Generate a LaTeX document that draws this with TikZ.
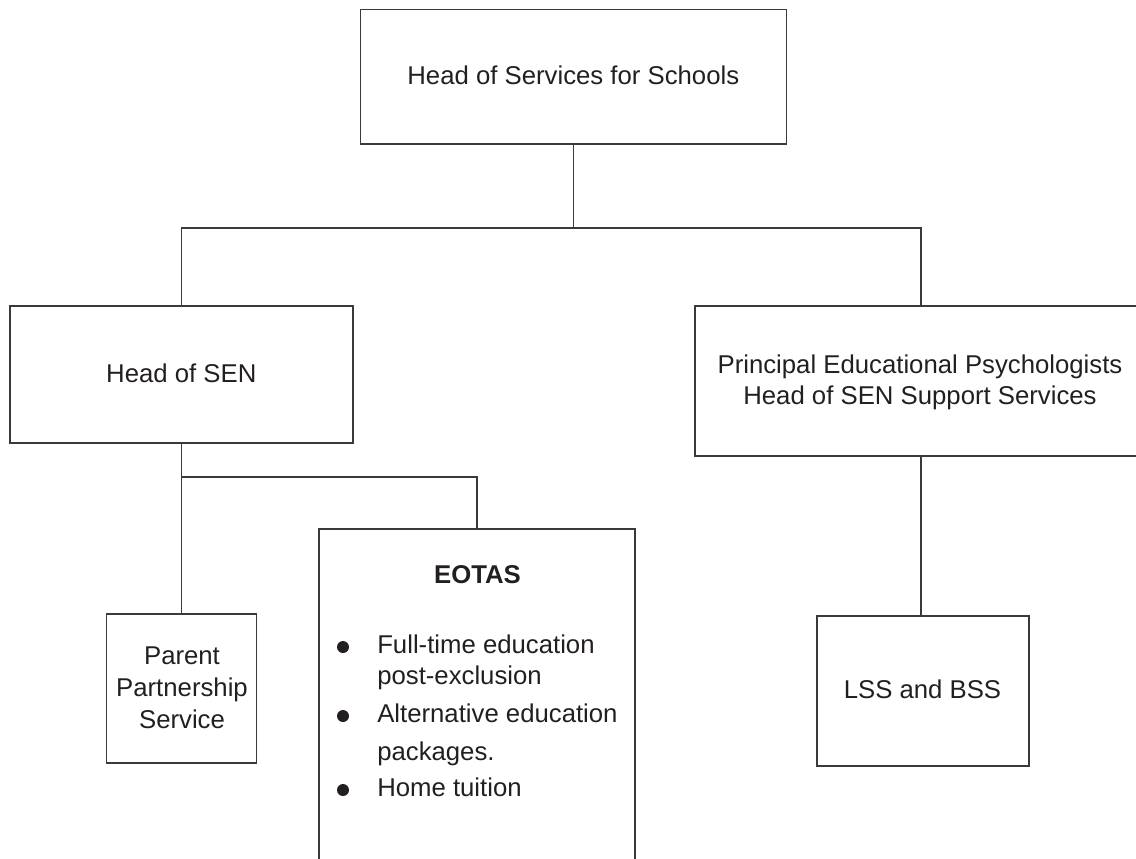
\documentclass[tikz,border=0pt]{standalone}
\usepackage{fontspec}
\setmainfont{Liberation Sans}
\definecolor{linegray}{HTML}{3A3A3A}
\definecolor{textblack}{HTML}{231F20}
\begin{document}
\begin{tikzpicture}[x=0.75pt,y=-0.75pt,
  box/.style n args={2}{draw=linegray, line width=1.2pt, inner sep=0pt, minimum width=#1, minimum height=#2},
  txt/.style={inner sep=0pt, anchor=base, text=textblack, font=\fontsize{19.3}{23}\selectfont},
  itemtxt/.style={txt, anchor=base west},
  bul/.style={circle, fill=textblack, inner sep=0pt, minimum size=9pt},
  conn/.style={draw=linegray, line width=1.2pt}]
\clip (0,0) rectangle (1136,858);
% boxes
\node[box={319.5pt}{100.875pt}] (top) at (573.5,76.75) {};
\node[box={257.25pt}{102.75pt}] (sen) at (181.5,374.5) {};
\node[box={339pt}{112.5pt}] (pep) at (921,381) {};
\node[box={159pt}{112.5pt}] (lss) at (923,691) {};
\node[box={112.5pt}{111.75pt}] (pps) at (181.5,688.5) {};
\node[box={237pt}{278.25pt}] (eotas) at (477,714.5) {};
% texts
\node[txt] (ttop) at (573.3,84) {Head of Services for Schools};
\node[txt] (tsen) at (181.3,382) {Head of SEN};
\node[txt] (tpep1) at (920,373) {Principal Educational Psychologists};
\node[txt] (tpep2) at (920,404) {Head of SEN Support Services};
\node[txt] (tlss) at (922.5,698) {LSS and BSS};
\node[txt] (tpps1) at (182,664) {Parent};
\node[txt] (tpps2) at (182,696) {Partnership};
\node[txt] (tpps3) at (182,728) {Service};
\node[txt, font=\fontsize{19.3}{23}\selectfont\bfseries] (teo) at (477.5,583) {EOTAS};
\node[bul] (b1) at (343,647) {};
\node[itemtxt] (i1a) at (377,653) {Full-time education};
\node[itemtxt] (i1b) at (377,684) {post-exclusion};
\node[bul] (b2) at (343,716) {};
\node[itemtxt] (i2a) at (377,722) {Alternative education};
\node[itemtxt] (i2b) at (377,760) {packages.};
\node[bul] (b3) at (343,790) {};
\node[itemtxt] (i3) at (377,796) {Home tuition};
% connectors
\coordinate (bus1) at (0,228);
\coordinate (bus2) at (0,477);
\draw[conn] (top.south) -- (top.south |- bus1);
\draw[conn] (sen.north) |- (pep.north |- bus1) -- (pep.north);
\draw[conn] (sen.south) -- (sen.south |- bus2) -| (eotas.north);
\draw[conn] (sen.south |- bus2) -- (pps.north);
\draw[conn] (pep.south) -- (pep.south |- lss.north);
\end{tikzpicture}
\end{document}
